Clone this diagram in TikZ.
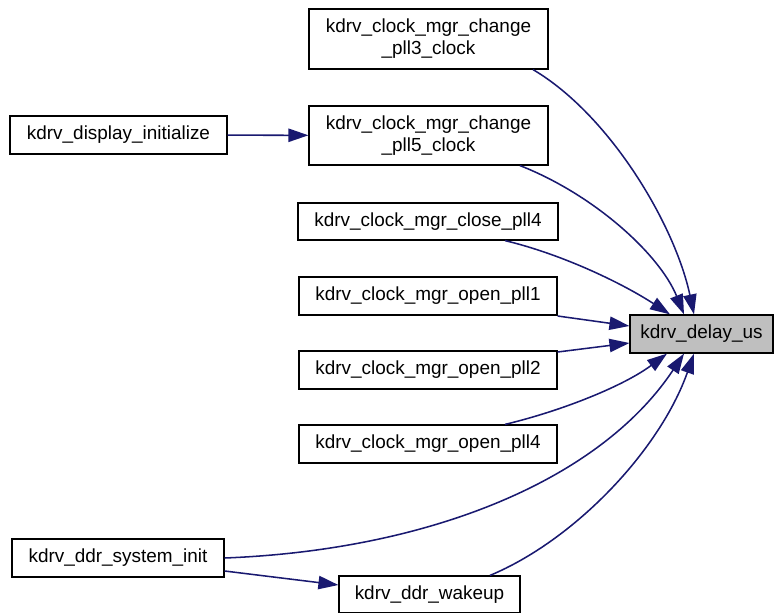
\documentclass[tikz,border=0pt]{standalone}
\usepackage{fontspec}
\setmainfont{Liberation Sans}
\usetikzlibrary{arrows.meta,calc}
\definecolor{edgeblue}{HTML}{191970}
\definecolor{hlgrey}{HTML}{BFBFBF}
\tikzset{
  fn/.style={draw=black, line width=0.9pt, fill=white, font=\fontsize{14.2pt}{16.5pt}\selectfont,
    minimum height=28.5pt, inner sep=2pt, align=center},
  calls/.style={draw=edgeblue, line width=1.15pt,
    -{Triangle[length=15pt,width=10pt]}}
}
\begin{document}
\begin{tikzpicture}[x=0.75pt,y=-0.75pt]
\useasboundingbox (0,0) rectangle (774,613);

% callers
\node[fn, minimum width=179.25pt, minimum height=45pt] (pllthree) at (428.5,39) {kdrv\_clock\_mgr\_change\\\_pll3\_clock};
\node[fn, minimum width=179.25pt, minimum height=44.25pt] (pllfive) at (428.5,135.5) {kdrv\_clock\_mgr\_change\\\_pll5\_clock};
\node[fn, minimum width=162.75pt] (disp) at (118.5,135) {kdrv\_display\_initialize};
\node[fn, minimum width=195pt, minimum height=27.75pt] (closefour) at (428,221.5) {kdrv\_clock\_mgr\_close\_pll4};
\node[fn, minimum width=193.5pt] (openone) at (428,296) {kdrv\_clock\_mgr\_open\_pll1};
\node[fn, minimum width=193.5pt] (opentwo) at (428,370) {kdrv\_clock\_mgr\_open\_pll2};
\node[fn, minimum width=193.5pt] (openfour) at (428,444) {kdrv\_clock\_mgr\_open\_pll4};
\node[fn, minimum width=159pt] (sysinit) at (118,558) {kdrv\_ddr\_system\_init};
\node[fn, minimum width=135.75pt, minimum height=27.75pt] (wakeup) at (429.5,594.5) {kdrv\_ddr\_wakeup};

% callee
\node[fn, fill=hlgrey, minimum width=107.25pt] (delay) at (701.5,334) {kdrv\_delay\_us};

% call edges
\draw[calls] (disp) -- (pllfive);
\draw[calls] (sysinit.east |- 0,571) -- (wakeup.west |- 0,585);

\draw[calls] (pllthree.south -| 533,0) .. controls (610,115) and (675,225) .. (delay.north -| 694,0);
\draw[calls] (pllfive.south -| 520,0) .. controls (595,195) and (660,255) .. (delay.north -| 684,0);
\draw[calls] (closefour.south -| 505,0) .. controls (565,255) and (625,285) .. (delay.north -| 670,0);
\draw[calls] (openone.east |- 0,316) -- (delay.west |- 0,326);
\draw[calls] (opentwo.east |- 0,352) -- (delay.west |- 0,343);
\draw[calls] (openfour.north -| 505,0) .. controls (565,410) and (625,385) .. (delay.south -| 667,0);
\draw[calls] (sysinit.east) .. controls (430,550) and (600,480) .. (delay.south -| 684,0);
\draw[calls] (wakeup.north -| 490,0) .. controls (575,540) and (660,450) .. (delay.south -| 694,0);
\end{tikzpicture}
\end{document}
